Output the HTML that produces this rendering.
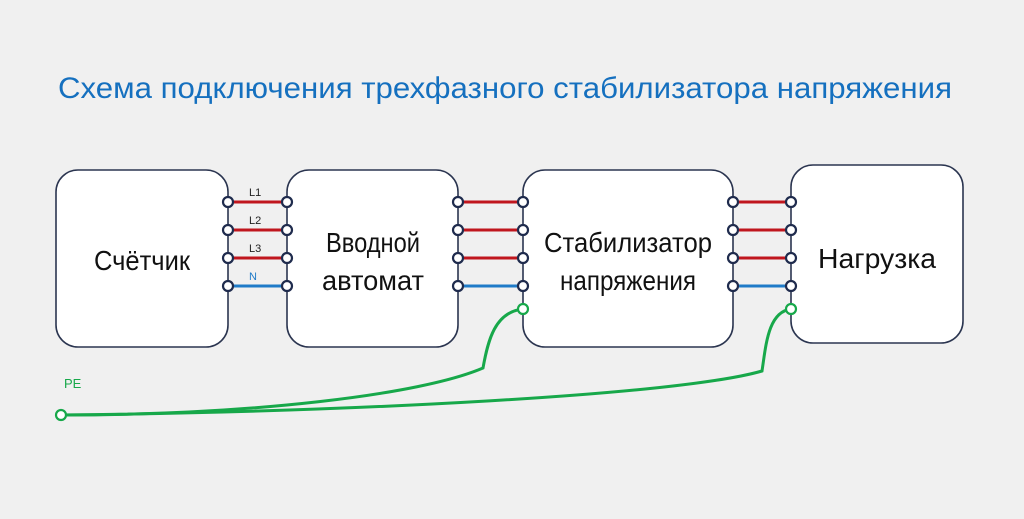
<!DOCTYPE html>
<html><head><meta charset="utf-8"><style>
html,body{margin:0;padding:0;background:#f0f0f0;}
svg{display:block;}
text{font-family:"Liberation Sans","DejaVu Sans",sans-serif;}
</style></head><body>
<svg width="1024" height="519" viewBox="0 0 1024 519">
<rect width="1024" height="519" fill="#f0f0f0"/>
<text x="58" y="98" font-size="30" fill="#1570bf" textLength="894" lengthAdjust="spacingAndGlyphs">Схема подключения трехфазного стабилизатора напряжения</text>
<g fill="#fff" stroke="#2b3550" stroke-width="1.6">
<rect x="56" y="170" width="172" height="177" rx="22"/>
<rect x="287" y="170" width="171" height="177" rx="22"/>
<rect x="523" y="170" width="210" height="177" rx="22"/>
<rect x="791" y="165" width="172" height="178" rx="22"/>
</g>
<g font-size="28" fill="#111" text-anchor="middle">
<text x="142" y="270" textLength="96" lengthAdjust="spacingAndGlyphs">Счётчик</text>
<text x="373" y="252" textLength="94" lengthAdjust="spacingAndGlyphs">Вводной</text>
<text x="373" y="290" textLength="102" lengthAdjust="spacingAndGlyphs">автомат</text>
<text x="628" y="252" textLength="168" lengthAdjust="spacingAndGlyphs">Стабилизатор</text>
<text x="628" y="290" textLength="136" lengthAdjust="spacingAndGlyphs">напряжения</text>
<text x="877" y="268" textLength="118" lengthAdjust="spacingAndGlyphs">Нагрузка</text>
</g>
<g stroke-width="3">
<line x1="228" y1="202" x2="287" y2="202" stroke="#c0161e"/>
<line x1="228" y1="230" x2="287" y2="230" stroke="#c0161e"/>
<line x1="228" y1="258" x2="287" y2="258" stroke="#c0161e"/>
<line x1="228" y1="286" x2="287" y2="286" stroke="#1f7bc8"/>
<line x1="458" y1="202" x2="523" y2="202" stroke="#c0161e"/>
<line x1="458" y1="230" x2="523" y2="230" stroke="#c0161e"/>
<line x1="458" y1="258" x2="523" y2="258" stroke="#c0161e"/>
<line x1="458" y1="286" x2="523" y2="286" stroke="#1f7bc8"/>
<line x1="733" y1="202" x2="791" y2="202" stroke="#c0161e"/>
<line x1="733" y1="230" x2="791" y2="230" stroke="#c0161e"/>
<line x1="733" y1="258" x2="791" y2="258" stroke="#c0161e"/>
<line x1="733" y1="286" x2="791" y2="286" stroke="#1f7bc8"/>
</g>
<g font-size="11" fill="#222">
<text x="249" y="196">L1</text><text x="249" y="224">L2</text><text x="249" y="252">L3</text>
<text x="249" y="280" fill="#1f7bc8">N</text>
</g>
<g fill="none" stroke="#17a84a" stroke-width="3">
<path d="M61,415 C250,415 420,395 483,368 C488,340 495,312 523,309"/>
<path d="M61,415 C350,412 680,395 762,371 C766,345 768,312 791,309"/>
</g>
<text x="64" y="388" font-size="13" fill="#17a84a">PE</text>
<g fill="#fff" stroke="#1f2b4d" stroke-width="2.2">
<circle cx="228" cy="202" r="5"/><circle cx="228" cy="230" r="5"/><circle cx="228" cy="258" r="5"/><circle cx="228" cy="286" r="5"/>
<circle cx="287" cy="202" r="5"/><circle cx="287" cy="230" r="5"/><circle cx="287" cy="258" r="5"/><circle cx="287" cy="286" r="5"/>
<circle cx="458" cy="202" r="5"/><circle cx="458" cy="230" r="5"/><circle cx="458" cy="258" r="5"/><circle cx="458" cy="286" r="5"/>
<circle cx="523" cy="202" r="5"/><circle cx="523" cy="230" r="5"/><circle cx="523" cy="258" r="5"/><circle cx="523" cy="286" r="5"/>
<circle cx="733" cy="202" r="5"/><circle cx="733" cy="230" r="5"/><circle cx="733" cy="258" r="5"/><circle cx="733" cy="286" r="5"/>
<circle cx="791" cy="202" r="5"/><circle cx="791" cy="230" r="5"/><circle cx="791" cy="258" r="5"/><circle cx="791" cy="286" r="5"/>
</g>
<g fill="#fff" stroke="#17a84a" stroke-width="2.2">
<circle cx="523" cy="309" r="5"/><circle cx="791" cy="309" r="5"/><circle cx="61" cy="415" r="5"/>
</g>
</svg>
</body></html>
